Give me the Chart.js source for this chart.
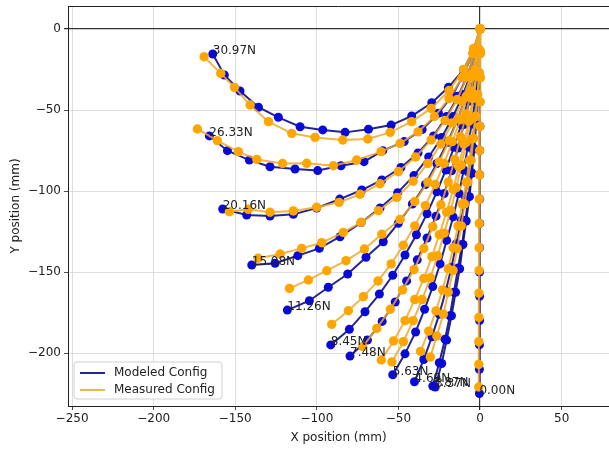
<!DOCTYPE html>
<html>
<head>
<meta charset="utf-8">
<script src="https://cdn.jsdelivr.net/npm/chart.js@4.4.1/dist/chart.umd.min.js"></script>
<style>
  html, body { margin: 0; padding: 0; background: #fff; }
</style>
</head>
<body>
<canvas id="chart" width="609" height="453"></canvas>
<script>
// force labels, in the same order as the curve arrays below
const forceLabels = ["0.00N", "3.37N", "3.87N", "4.69N", "5.63N", "7.48N", "8.45N", "11.26N", "15.08N", "20.16N", "26.33N", "30.97N"];

const xTicks = [-250, -200, -150, -100, -50, 0, 50];
const yTicks = [-200, -150, -100, -50, 0];

// modeled configs, [x, y] in mm, base -> tip
const mod_0_00 = [[0,0],[0,-15],[-0.1,-30],[-0.1,-45],[-0.1,-60],[-0.2,-75],[-0.2,-90],[-0.2,-105],[-0.2,-120],[-0.3,-135],[-0.3,-150],[-0.3,-165],[-0.3,-180],[-0.4,-195],[-0.4,-210],[-0.4,-225]];
const mod_3_37 = [[0,0],[-0.5,-15],[-1,-29.5],[-1.5,-44.5],[-2.5,-59],[-3.5,-74],[-5,-89],[-6.5,-103.5],[-8.5,-118.5],[-10.5,-133],[-12.5,-148],[-15,-162.5],[-17.5,-177],[-20.5,-192],[-23.5,-206.5],[-27.5,-221]];
const mod_3_87 = [[0,0],[-0.5,-14.5],[-1,-29.5],[-2,-44],[-3,-59],[-4,-73.5],[-5.5,-88.5],[-7,-103.5],[-9,-118],[-11,-133],[-13.5,-147.5],[-16,-162.5],[-18.5,-177],[-21.5,-191.5],[-25,-206],[-29,-220.4]];
const mod_4_69 = [[0,0],[-0.5,-15],[-1,-29.5],[-2,-44.5],[-3.5,-59],[-5,-74],[-7,-88.5],[-9,-103.5],[-11.5,-118],[-14.5,-132.5],[-17.5,-147],[-21,-161.5],[-25,-176],[-29.5,-190],[-34.5,-204],[-40.2,-217.7]];
const mod_5_63 = [[0,0],[-0.5,-14.5],[-1.5,-29],[-3,-43.5],[-5,-58],[-7.5,-72.5],[-10,-87],[-13,-101.5],[-16.5,-116],[-20.5,-130.5],[-24.5,-145],[-29,-159],[-34,-173],[-39.5,-187],[-46,-200.5],[-53.5,-213.4]];
const mod_7_48 = [[0,0],[-1.5,-15],[-3.5,-30],[-6.5,-44.5],[-10,-59],[-13.5,-73.5],[-17.5,-87.5],[-22,-101.5],[-27,-115.5],[-32.5,-129],[-38.5,-142.5],[-45,-155.5],[-52,-168.5],[-60,-180.5],[-69,-192],[-79.7,-201.9]];
const mod_8_45 = [[0,0],[-1.5,-15],[-4,-30],[-7.5,-44.5],[-11.5,-59],[-16,-73],[-21,-87],[-26.5,-100.5],[-32.5,-114],[-39,-127],[-46,-139.5],[-53.5,-152],[-61.7,-163.6],[-70.5,-174.5],[-80.1,-185.4],[-91.5,-195]];
const mod_11_26 = [[0,0],[-2,-14],[-5,-28.5],[-9,-42.5],[-14,-56.5],[-20,-70],[-26.5,-83],[-33.5,-96],[-41.5,-108],[-50.1,-119.9],[-59.3,-131.3],[-69.9,-140.9],[-81.1,-151.2],[-93,-159.4],[-104.6,-167.7],[-118.1,-173.5]];
const mod_15_08 = [[0,0],[-2,-13.5],[-5.5,-27],[-10.5,-40.5],[-16.5,-54],[-23.5,-67],[-31.5,-79],[-40.5,-90.5],[-50.5,-101],[-61.3,-110.5],[-72.9,-119.5],[-85.8,-128.2],[-98.5,-135.4],[-111.7,-139.9],[-125.6,-144.6],[-139.9,-145.7]];
const mod_20_16 = [[0,0],[-3,-14],[-7.5,-28],[-13.5,-41.5],[-20.5,-54],[-28.5,-66],[-38,-76.5],[-48.5,-85.5],[-60.2,-93.2],[-72.5,-99.4],[-86,-105],[-100.1,-110.5],[-114.4,-114.4],[-128.7,-115.4],[-143,-114.8],[-157.7,-111.1]];
const mod_26_33 = [[0,0],[-4,-14],[-10,-28],[-17,-41],[-25.5,-52],[-35.5,-62],[-46.5,-69.5],[-59.6,-75.1],[-71.1,-81.9],[-85.2,-84.4],[-99.5,-87.4],[-113.4,-86.4],[-128.7,-85],[-141.4,-80.9],[-154.8,-75.1],[-165.9,-66]];
const mod_30_97 = [[0,0],[-4,-13],[-10,-25],[-19.4,-36],[-29.6,-45.5],[-41.9,-53.7],[-54.5,-59.3],[-68.4,-61.9],[-82.7,-63.8],[-96.4,-62.3],[-110.3,-60.3],[-123.6,-54.5],[-135.8,-48.3],[-147.1,-38.3],[-156.7,-28.4],[-163.8,-15.4]];

// measured configs
const meas_0_00 = [[0,0],[0.3,-15],[0.2,-30],[0,-45],[-0.2,-60],[-0.3,-75],[-0.4,-90],[-0.5,-105],[-0.5,-120],[-0.6,-135],[-0.6,-149],[-0.7,-163],[-0.7,-178],[-0.8,-193],[-0.8,-207],[-0.8,-221]];
const meas_3_37 = [[0,0],[0,-13.5],[-0.5,-27],[-1.5,-40.5],[-2.5,-54],[-4,-67.5],[-5.5,-81],[-7.5,-94.5],[-9.5,-108],[-11.5,-121.5],[-14,-135.5],[-16.5,-149],[-19.5,-162.5],[-22.5,-176],[-26.5,-189.5],[-30.5,-202.5]];
const meas_3_87 = [[0,0],[0,-13.5],[-0.5,-27],[-1.5,-40.5],[-3,-54],[-4.5,-67.5],[-6.5,-81],[-8.5,-94.5],[-11,-108],[-13.5,-121.5],[-16.5,-135],[-19.5,-148],[-23,-161],[-27,-174],[-31.5,-186.5],[-36.5,-199]];
const meas_4_69 = [[0,0],[-0.5,-14],[-2,-28],[-4,-42],[-6,-56],[-8.5,-70],[-11.5,-84],[-14.5,-98],[-18,-112],[-22,-126],[-26,-140],[-30.5,-153.5],[-35.5,-167],[-41,-180],[-47,-193],[-54,-205.5]];
const meas_5_63 = [[0,0],[-1,-14.5],[-2.5,-29],[-4.5,-43],[-7,-57],[-10,-71],[-13,-85],[-16.5,-99],[-20.5,-113],[-25,-127],[-29.5,-140.5],[-34.5,-154],[-40,-167],[-46,-180],[-53,-192.5],[-60.5,-204.3]];
const meas_7_48 = [[0,0],[-1,-12],[-3,-25],[-5.5,-38.5],[-8.5,-52.5],[-12,-66.5],[-15.5,-80.5],[-19.5,-94.5],[-24,-108.5],[-29,-122],[-34.5,-135.5],[-40.5,-148.5],[-47.5,-161],[-55,-173],[-63.3,-184.8],[-71.9,-196]];
const meas_8_45 = [[0,0],[-1.5,-14],[-4.5,-28],[-8,-42],[-12,-56],[-17,-69.5],[-22,-83],[-27.5,-96],[-33.5,-109],[-40,-121.5],[-47,-133.5],[-54.5,-145],[-62.5,-155.5],[-71.5,-165.2],[-80.7,-173.9],[-90.9,-182.3]];
const meas_11_26 = [[0,0],[-1.5,-13.5],[-4.5,-27.5],[-8.5,-41.5],[-13.5,-55.5],[-19,-69],[-25,-82],[-32,-94.5],[-40,-106.5],[-49,-117.5],[-60.2,-126.7],[-70.9,-135.8],[-82.1,-143],[-93.9,-149.2],[-105.2,-154.9],[-116.8,-160.1]];
const meas_15_08 = [[0,0],[-2.5,-15],[-6,-30],[-11,-44.5],[-17,-58],[-24,-71],[-32,-83],[-41,-94],[-51,-103.9],[-62.3,-112.1],[-72.9,-119.3],[-83.8,-125.5],[-97,-131.9],[-109.3,-135.4],[-122.5,-138.9],[-136,-141.5]];
const meas_20_16 = [[0,0],[-3.5,-15],[-8,-29.5],[-14,-43.5],[-21.5,-56.5],[-30,-68.5],[-39.5,-79],[-50,-88],[-61.3,-95.5],[-73.5,-102],[-86.4,-107],[-100.1,-110],[-114.4,-112.3],[-128.7,-113.1],[-142,-111.3],[-153.6,-112.8]];
const meas_26_33 = [[0,0],[-4.5,-15],[-11,-30],[-19,-43],[-28,-54],[-38,-63.5],[-49,-70.6],[-60.7,-75.7],[-75.6,-80.9],[-89.9,-84.4],[-106.2,-82.9],[-121,-83],[-136.8,-80.5],[-148.1,-75.7],[-161,-68.9],[-173.2,-61.7]];
const meas_30_97 = [[0,0],[-4,-12],[-10,-25],[-19,-38],[-30,-49],[-41.9,-57.2],[-55.1,-63.8],[-68.8,-67.9],[-84.1,-68.5],[-101.1,-66.9],[-115.4,-64.4],[-129.7,-57.2],[-140.9,-46.9],[-150.5,-36],[-158.9,-27.4],[-169.1,-17.1]];

const modeled = [mod_0_00, mod_3_37, mod_3_87, mod_4_69, mod_5_63, mod_7_48, mod_8_45, mod_11_26, mod_15_08, mod_20_16, mod_26_33, mod_30_97];
const measured = [meas_0_00, meas_3_37, meas_3_87, meas_4_69, meas_5_63, meas_7_48, meas_8_45, meas_11_26, meas_15_08, meas_20_16, meas_26_33, meas_30_97];

const BLUE_LINE = "rgba(12,12,135,0.9)";
const BLUE_DOT = "#0a0ad8";
const ORANGE_LINE = "rgba(238,168,40,0.85)";
const ORANGE_DOT = "#ffa500";
const FONT = "'DejaVu Sans', sans-serif";

function toXY(pts) {
  return pts.map(function (p) { return { x: p[0], y: p[1] }; });
}

var datasets = [];
modeled.forEach(function (pts, i) {
  datasets.push({
    label: "Modeled " + forceLabels[i],
    data: toXY(pts),
    showLine: true,
    borderColor: BLUE_LINE,
    borderWidth: 2,
    pointRadius: 4.5,
    pointBackgroundColor: BLUE_DOT,
    pointBorderWidth: 0,
    order: 2
  });
});
measured.forEach(function (pts, i) {
  datasets.push({
    label: "Measured " + forceLabels[i],
    data: toXY(pts),
    showLine: true,
    borderColor: ORANGE_LINE,
    borderWidth: 2,
    pointRadius: 4.7,
    pointBackgroundColor: ORANGE_DOT,
    pointBorderWidth: 0,
    order: 1
  });
});

// text at the tip of each modeled curve
const tipLabels = {
  id: "tipLabels",
  afterDatasetsDraw(chart) {
    const ctx = chart.ctx;
    ctx.save();
    ctx.font = "12px " + FONT;
    ctx.fillStyle = "#222";
    ctx.textAlign = "left";
    ctx.textBaseline = "alphabetic";
    for (let i = 0; i < modeled.length; i++) {
      const pts = chart.getDatasetMeta(i).data;
      const tip = pts[pts.length - 1];
      ctx.fillText(forceLabels[i], tip.x, tip.y);
    }
    ctx.restore();
  }
};

// top spine + legend box in lower left
const frameAndLegend = {
  id: "frameAndLegend",
  afterDraw(chart) {
    const ctx = chart.ctx;
    const a = chart.chartArea;
    ctx.save();
    ctx.strokeStyle = "#222";
    ctx.lineWidth = 1;
    ctx.beginPath();
    ctx.moveTo(a.left, a.top + 0.5);
    ctx.lineTo(a.right, a.top + 0.5);
    ctx.stroke();

    const x0 = a.left + 6, w = 148, h = 37, y0 = a.bottom - 7 - h, r = 3;
    ctx.beginPath();
    ctx.moveTo(x0 + r, y0);
    ctx.lineTo(x0 + w - r, y0);
    ctx.arcTo(x0 + w, y0, x0 + w, y0 + r, r);
    ctx.lineTo(x0 + w, y0 + h - r);
    ctx.arcTo(x0 + w, y0 + h, x0 + w - r, y0 + h, r);
    ctx.lineTo(x0 + r, y0 + h);
    ctx.arcTo(x0, y0 + h, x0, y0 + h - r, r);
    ctx.lineTo(x0, y0 + r);
    ctx.arcTo(x0, y0, x0 + r, y0, r);
    ctx.closePath();
    ctx.fillStyle = "rgba(255,255,255,0.85)";
    ctx.fill();
    ctx.strokeStyle = "#d0d0d0";
    ctx.stroke();

    const items = [["Modeled Config", BLUE_LINE], ["Measured Config", ORANGE_LINE]];
    ctx.font = "12px " + FONT;
    ctx.textBaseline = "middle";
    items.forEach(function (it, k) {
      const yy = y0 + 11 + k * 17;
      ctx.strokeStyle = it[1];
      ctx.lineWidth = 2;
      ctx.beginPath();
      ctx.moveTo(x0 + 6, yy);
      ctx.lineTo(x0 + 31, yy);
      ctx.stroke();
      ctx.fillStyle = "#222";
      ctx.fillText(it[0], x0 + 40, yy);
    });
    ctx.restore();
  }
};

function gridColor(c) {
  return c.tick && c.tick.value === 0 ? "#333" : "#d6d6d6";
}
function gridWidth(c) {
  return c.tick && c.tick.value === 0 ? 1.2 : 0.8;
}

new Chart(document.getElementById("chart"), {
  type: "scatter",
  data: { datasets: datasets },
  options: {
    responsive: false,
    animation: false,
    devicePixelRatio: 1,
    layout: { autoPadding: false, padding: { top: 6, right: 0, left: 0, bottom: 0 } },
    plugins: {
      legend: { display: false },
      tooltip: { enabled: false }
    },
    scales: {
      x: {
        type: "linear",
        min: -252.5,
        max: 79,
        afterBuildTicks: function (s) { s.ticks = xTicks.map(function (v) { return { value: v }; }); },
        ticks: {
          font: { family: FONT, size: 12 },
          color: "#222",
          padding: 2,
          maxRotation: 0,
          callback: function (v) { return String(v).replace("-", "\u2212"); }
        },
        grid: { color: gridColor, lineWidth: gridWidth, tickLength: 4, tickColor: "#222" },
        border: { display: true, color: "#222", width: 1 },
        title: { display: true, text: "X position (mm)", font: { family: FONT, size: 12 }, color: "#222", padding: { top: 0, bottom: 8 } },
        afterFit: function (s) { s.height = 47; s.paddingLeft = 0; s.paddingRight = 0; }
      },
      y: {
        type: "linear",
        min: -232.7,
        max: 14.2,
        afterBuildTicks: function (s) { s.ticks = yTicks.map(function (v) { return { value: v }; }); },
        ticks: {
          font: { family: FONT, size: 12 },
          color: "#222",
          padding: 3,
          callback: function (v) { return String(v).replace("-", "\u2212"); }
        },
        grid: { color: gridColor, lineWidth: gridWidth, tickLength: 4, tickColor: "#222" },
        border: { display: true, color: "#222", width: 1 },
        title: { display: true, text: "Y position (mm)", font: { family: FONT, size: 12 }, color: "#222", padding: { top: 9, bottom: 0 } },
        afterFit: function (s) { s.width = 68; s.paddingTop = 0; s.paddingBottom = 0; }
      }
    }
  },
  plugins: [tipLabels, frameAndLegend]
});
</script>
</body>
</html>
